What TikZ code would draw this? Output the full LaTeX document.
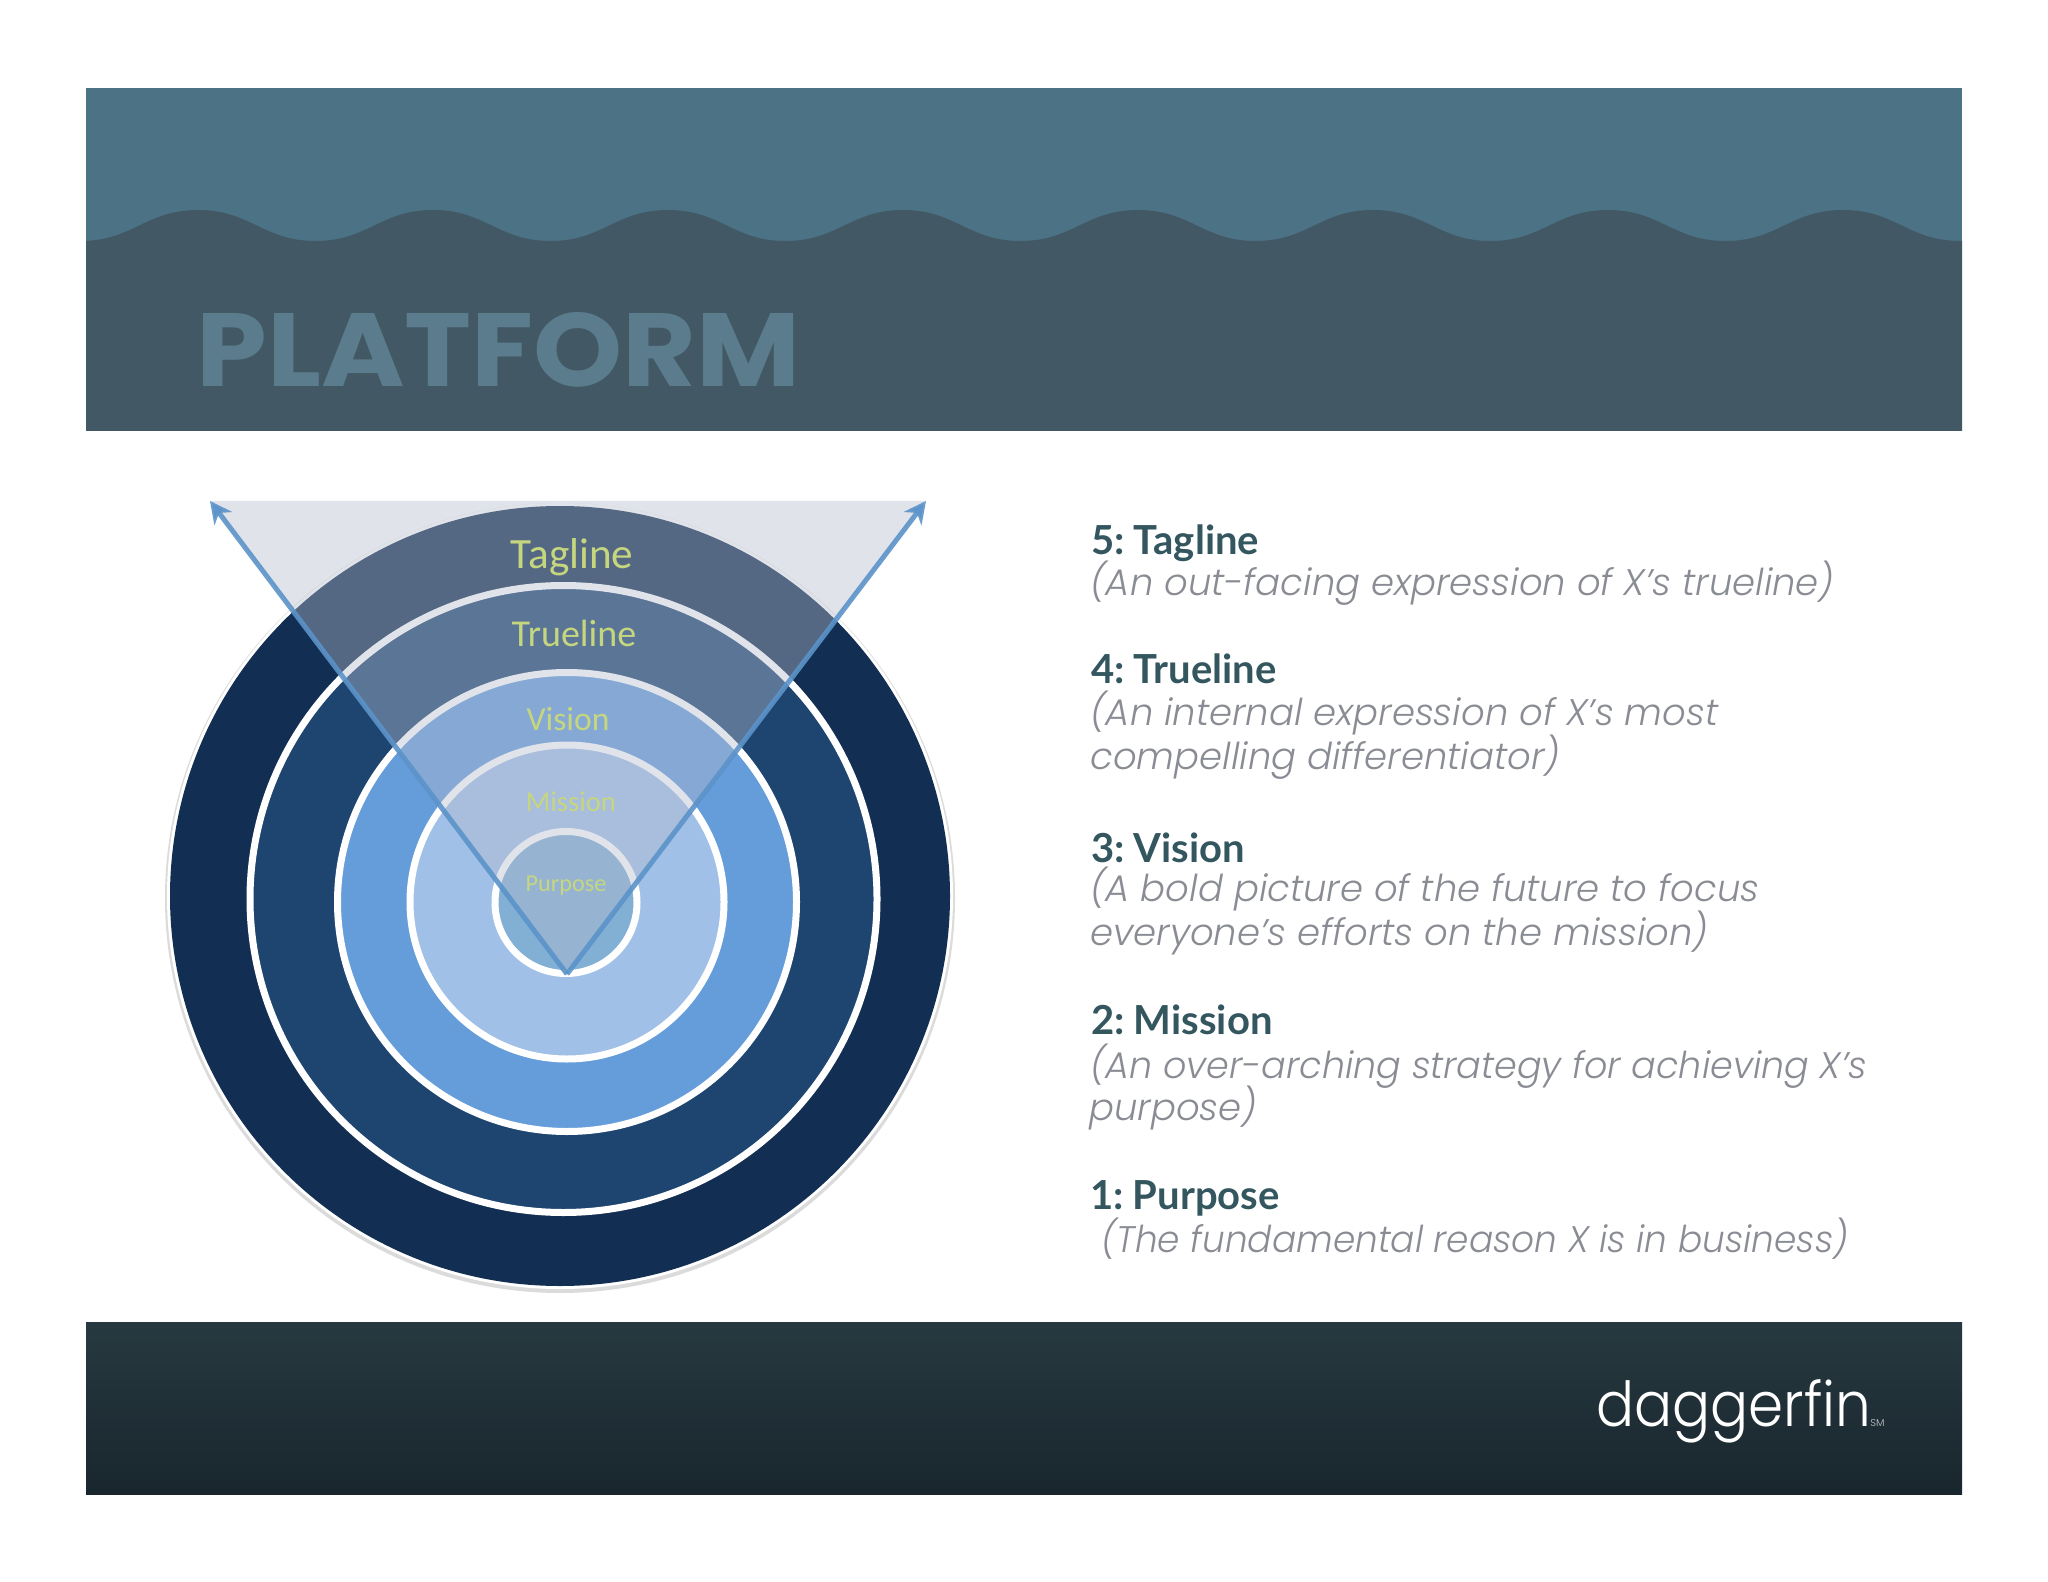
\documentclass[tikz,border=0pt]{standalone}
\usepackage{fontspec}
\usepackage{graphicx}
\usetikzlibrary{arrows.meta}
\setmainfont{Poppins}
\newfontfamily\headf{Lato}[BoldFont=Lato Bold,WordSpace=0.6]
\newfontfamily\lightf{Poppins Light}[ItalicFont=Poppins Light Italic]
\newfontfamily\ringf{Carlito}
\definecolor{bandtop}{HTML}{4B7285}
\definecolor{bandlow}{HTML}{425965}
\definecolor{plat}{HTML}{5B7C8C}
\definecolor{footA}{HTML}{273940}
\definecolor{footB}{HTML}{19262E}
\definecolor{headc}{HTML}{33565F}
\definecolor{bodyc}{HTML}{8A8C94}
\definecolor{navy}{HTML}{122E52}
\definecolor{ringb}{HTML}{1E4470}
\definecolor{ringc}{HTML}{659DDA}
\definecolor{ringd}{HTML}{A0C0E8}
\definecolor{ringe}{HTML}{82B0D4}
\definecolor{wedgec}{HTML}{B4BCCD}
\definecolor{arrowc}{HTML}{5B93C9}
\definecolor{labelc}{HTML}{C6D67F}
\tikzset{
 ringdisc/.style={draw=white,line width=3.5pt},
 headtext/.style={anchor=base west,inner sep=0pt,text=headc,font=\headf\bfseries\fontsize{20}{22}\selectfont},
 bodytext/.style={anchor=base west,inner sep=0pt,text=bodyc,font=\lightf\itshape\fontsize{18.5}{20}\selectfont},
 ringlabel/.style={inner sep=0pt,text=labelc},
 ray/.style={draw=arrowc,line width=2.5pt,-{Stealth[length=11pt,width=11pt,inset=3.5pt]},opacity=.9}
}
\begin{document}
\begin{tikzpicture}[x=0.5pt,y=-0.5pt]
\useasboundingbox (0,0) rectangle (2048,1582);
\fill[white] (0,0) rectangle (2048,1582);
% header
\fill[bandtop] (86,88) rectangle (1962,431);
\fill[bandlow] (86,431) -- plot[domain=86:1962,samples=320] (\x,{225.5+15.5*(1.15*cos((\x-80.5)/235*360)-0.15*cos((\x-80.5)/235*360)*cos((\x-80.5)/235*360)*cos((\x-80.5)/235*360))}) -- (1962,431) -- cycle;
\node[anchor=base west,inner sep=0pt,text=plat,font=\bfseries\fontsize{52}{52}\selectfont] (title) at (196,387) {\scalebox{1.09}[1]{PLATFORM}};
% footer
\shade[top color=footA,bottom color=footB] (86,1322) rectangle (1962,1494);
\node[anchor=base west,inner sep=0pt,text=white,font=\lightf\fontsize{31}{31}\selectfont] (logo) at (1596,1426) {\scalebox{0.91}[1]{daggerfin}};
\node[anchor=base west,inner sep=0pt,text=white!75!footB,font=\lightf\fontsize{5}{5}\selectfont] (sm) at (1870,1426) {SM};
% rings
\fill[black!14] (560,898) circle[radius=395];
\fill[white] (560,896) circle[radius=393];
\fill[navy] (560,896) circle[radius=390];
\draw[ringdisc,fill=ringb] (563.5,899) circle[radius=313.5];
\draw[ringdisc,fill=ringc] (567,902) circle[radius=229.5];
\draw[ringdisc,fill=ringd] (567,902) circle[radius=157];
\draw[ringdisc,fill=ringe] (566,902.5) circle[radius=71];
% wedge and rays
\coordinate (apex) at (567,974);
\coordinate (tipL) at (210,501);
\coordinate (tipR) at (926,501);
\fill[wedgec,opacity=.41] (apex) -- (tipL) -- (tipR) -- cycle;
\draw[ray] (apex) -- (tipL);
\draw[ray] (apex) -- (tipR);
% ring labels
\node[ringlabel,font=\ringf\fontsize{21.6}{21}\selectfont] (lTag) at (572,557) {Tagline};
\node[ringlabel,font=\ringf\fontsize{19}{19}\selectfont] (lTrue) at (574,633) {Trueline};
\node[ringlabel,font=\ringf\fontsize{16.8}{16}\selectfont] (lVis) at (568,719) {Vision};
\node[ringlabel,font=\ringf\fontsize{14.3}{14}\selectfont] (lMis) at (571,802) {Mission};
\node[ringlabel,font=\ringf\fontsize{12.1}{12}\selectfont] (lPur) at (566,886) {Purpose};
% text column
\node[headtext] (h5) at (1091,555) {5: Tagline};
\node[bodytext] (b5) at (1090,595.5) {(An out-facing expression of X’s trueline)};
\node[headtext] (h4) at (1091,683.5) {4: Trueline};
\node[bodytext] (b4a) at (1090,725.5) {(An internal expression of X’s most};
\node[bodytext] (b4b) at (1090,769.5) {compelling differentiator)};
\node[headtext] (h3) at (1091,862) {3: Vision};
\node[bodytext] (b3a) at (1090,901) {(A bold picture of the future to focus};
\node[bodytext] (b3b) at (1090,945.5) {everyone’s efforts on the mission)};
\node[headtext] (h2) at (1091,1034.5) {2: Mission};
\node[bodytext] (b2a) at (1090,1078) {\scalebox{0.987}[1]{(An over-arching strategy for achieving X’s}};
\node[bodytext] (b2b) at (1089,1120) {purpose)};
\node[headtext] (h1) at (1090,1209.5) {1: Purpose};
\node[bodytext] (b1) at (1101,1252) {\scalebox{0.97}[1]{(The fundamental reason X is in business)}};
\end{tikzpicture}
\end{document}
